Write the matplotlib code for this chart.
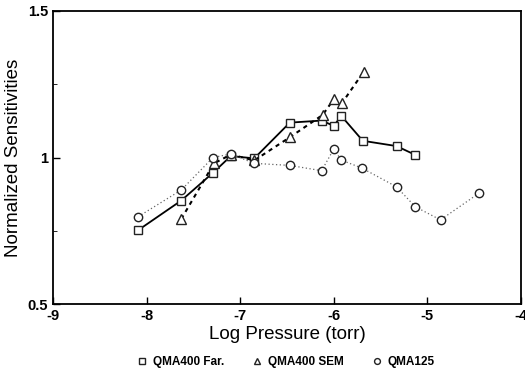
import numpy as np
import matplotlib
matplotlib.use('Agg')
import matplotlib.pyplot as plt
from matplotlib.ticker import FixedLocator, FuncFormatter

plt.rcParams['font.family'] = ['Liberation Sans', 'DejaVu Sans']
plt.rcParams['axes.unicode_minus'] = False

# QMA400 Faraday (squares, solid)
far_x = [-8.09, -7.63, -7.29, -7.10, -6.85, -6.47, -6.13, -6.00, -5.92, -5.69, -5.33, -5.13]
far_y = [0.752, 0.853, 0.948, 1.005, 0.997, 1.119, 1.126, 1.108, 1.142, 1.057, 1.039, 1.009]

# QMA400 SEM (triangles, dashed)
sem_x = [-7.63, -7.28, -7.10, -6.85, -6.47, -6.12, -6.00, -5.91, -5.68]
sem_y = [0.790, 0.980, 1.010, 0.990, 1.069, 1.145, 1.199, 1.187, 1.293]

# QMA125 (circles, dotted)
q125_x = [-8.09, -7.63, -7.29, -7.10, -6.85, -6.47, -6.13, -6.00, -5.92, -5.70, -5.33, -5.13, -4.86, -4.45]
q125_y = [0.798, 0.889, 1.000, 1.012, 0.980, 0.973, 0.955, 1.029, 0.991, 0.964, 0.900, 0.832, 0.787, 0.878]

labels = ['QMA400 Far.', 'QMA400 SEM', 'QMA125']

fig = plt.figure(figsize=(5.25, 3.73), dpi=100)
ax = fig.add_axes([53 / 525, 69 / 373, 468 / 525, 293 / 373])

ax.plot(far_x, far_y, '-', color='black', lw=1.3, marker='s', ms=5.5,
        mfc='white', mec='#222222', mew=1.0, label=labels[0])
ax.plot(sem_x, sem_y, color='black', lw=1.5, ls=(0, (2, 2)), marker='^', ms=6.5,
        mfc='white', mec='#222222', mew=1.0, label=labels[1])
ax.plot(q125_x, q125_y, color='#666666', lw=0.9, ls=(0, (1, 2)), marker='o', ms=6,
        mfc='white', mec='#222222', mew=1.0, label=labels[2])

ax.set_xlim(-9, -4)
ax.set_ylim(0.5, 1.5)
ax.xaxis.set_major_locator(FixedLocator([-9, -8, -7, -6, -5, -4]))
ax.yaxis.set_major_locator(FixedLocator([0.5, 1, 1.5]))
ax.yaxis.set_minor_locator(FixedLocator([0.75, 1.25]))
ax.yaxis.set_major_formatter(FuncFormatter(lambda v, p: '%g' % v))
ax.tick_params(direction='in', length=5, width=1, labelsize=10.5)
ax.tick_params(which='minor', direction='in', length=3)
for lab in ax.get_xticklabels() + ax.get_yticklabels():
    lab.set_fontweight('bold')
for s in ax.spines.values():
    s.set_linewidth(1.3)

ax.set_xlabel('Log Pressure (torr)', fontsize=13.5, labelpad=2)
ax.set_ylabel('Normalized Sensitivities', fontsize=13.5, labelpad=4)

leg = fig.legend(loc='lower center', bbox_to_anchor=(0.545, -0.015), ncol=3,
                 frameon=False, fontsize=8.5, handlelength=0.8, handletextpad=0.5,
                 columnspacing=2.4, markerscale=0.7)
for t in leg.get_texts():
    t.set_fontweight('bold')
for h in leg.legend_handles:
    h.set_linestyle('none')

fig.savefig('out.png', dpi=100)
